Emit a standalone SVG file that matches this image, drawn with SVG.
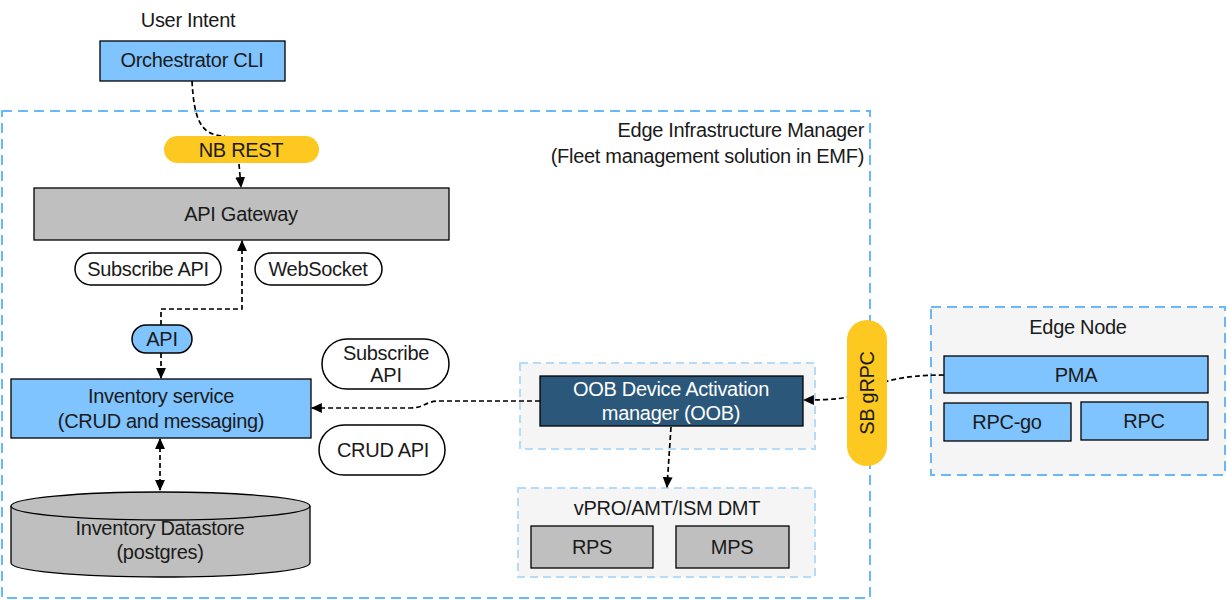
<svg xmlns="http://www.w3.org/2000/svg" width="1227" height="600" viewBox="0 0 1227 600">
<defs>
<marker id="ah" viewBox="0 0 10 10" refX="9" refY="5" markerWidth="11" markerHeight="11" orient="auto-start-reverse" markerUnits="userSpaceOnUse">
<path d="M0,0.5 L10,5 L0,9.5 z" fill="#000"/>
</marker>
<style>
text{font-family:"Liberation Sans",Arial,sans-serif;font-size:20px;fill:#1a1a1a;text-anchor:middle;dominant-baseline:central;letter-spacing:-0.3px}
.blue{fill:#80c4ff;stroke:#000;stroke-width:1.3}
.gray{fill:#bfbfbf;stroke:#000;stroke-width:1.3}
.pill{fill:#fff;stroke:#000;stroke-width:1.5}
.yel{fill:#fdc81f;stroke:none}
.outer{fill:none;stroke:#6ab8f7;stroke-width:2;stroke-dasharray:10 6}
.inner{fill:#f5f5f5;stroke:#b5dbfb;stroke-width:2;stroke-dasharray:8 5}
.edge{fill:#f5f5f5;stroke:#6ab8f7;stroke-width:2;stroke-dasharray:10 6}
.con{fill:none;stroke:#000;stroke-width:1.7;stroke-dasharray:5 3}
</style>
</defs>
<rect width="1227" height="600" fill="#fff"/>

<g id="eim">
<rect class="outer" x="2" y="111" width="868" height="487"/>
<text x="864" y="130" style="text-anchor:end">Edge Infrastructure Manager</text>
<text x="864" y="156" style="text-anchor:end">(Fleet management solution in EMF)</text>
</g>

<g id="user-intent">
<text x="188" y="20">User Intent</text>
</g>

<g id="oob-container"><rect class="inner" x="520" y="363" width="295" height="86"/></g>
<g id="vpro">
<rect class="inner" x="518" y="488" width="297" height="89"/>
<text x="667" y="508">vPRO/AMT/ISM DMT</text>
</g>
<g id="edge-node">
<rect class="edge" x="931" y="307" width="294" height="168"/>
<text x="1078" y="327">Edge Node</text>
</g>

<g id="connectors">
<path class="con" d="M192,81 C194,118 200,136 225,136"/>
<path class="con" d="M239,164 L241,187" marker-end="url(#ah)"/>
<path class="con" d="M161,325 L161,309 L242,309 L242,241" marker-end="url(#ah)"/>
<path class="con" d="M161,353 L161,378" marker-end="url(#ah)"/>
<path class="con" d="M160,439 L160,490" marker-start="url(#ah)" marker-end="url(#ah)"/>
<path class="con" d="M540,401 L440,401 C425,401 425,408 410,408 L312,408" marker-end="url(#ah)"/>
<path class="con" d="M671,427 L667,487" marker-end="url(#ah)"/>
<path class="con" d="M944,375 C900,375 880,382 860,392 C850,399 830,400 804,400" marker-end="url(#ah)"/>
</g>

<g id="orchestrator-cli">
<rect class="blue" x="100" y="41" width="185" height="40"/>
<text x="192" y="60">Orchestrator CLI</text>
</g>

<g id="nb-rest">
<rect class="yel" x="164" y="136" width="155" height="27" rx="13.5"/>
<text x="241" y="150">NB REST</text>
</g>

<g id="api-gateway">
<rect class="gray" x="34" y="188" width="415" height="52"/>
<text x="241" y="214">API Gateway</text>
</g>

<g id="subscribe-api-1">
<rect class="pill" x="75" y="253" width="146" height="32" rx="16"/>
<text x="148" y="269">Subscribe API</text>
</g>

<g id="websocket">
<rect class="pill" x="255" y="253" width="127" height="32" rx="16"/>
<text x="318" y="269">WebSocket</text>
</g>

<g id="api">
<rect x="132" y="325" width="60" height="28" rx="14" fill="#80c4ff" stroke="#000" stroke-width="1.5"/>
<text x="162" y="339">API</text>
</g>

<g id="inventory-service">
<rect class="blue" x="11" y="379" width="300" height="59"/>
<text x="161" y="396">Inventory service</text>
<text x="161" y="421">(CRUD and messaging)</text>
</g>

<g id="subscribe-api-2">
<rect class="pill" x="322" y="339" width="127" height="50" rx="25"/>
<text x="386" y="353">Subscribe</text>
<text x="386" y="375">API</text>
</g>

<g id="crud-api">
<rect class="pill" x="319" y="425" width="126" height="50" rx="25"/>
<text x="383" y="450">CRUD API</text>
</g>

<g id="inventory-datastore">
<path class="gray" d="M11,506 L11,563 A149.5,14 0 0 0 310,563 L310,506"/>
<ellipse class="gray" cx="160.5" cy="506" rx="149.5" ry="14"/>
<text x="160" y="528">Inventory Datastore</text>
<text x="160" y="552">(postgres)</text>
</g>

<g id="oob">
<rect x="540" y="376" width="263" height="50" fill="#2b587a" stroke="#000" stroke-width="1.3"/>
<text x="671" y="389" style="fill:#fff">OOB Device Activation</text>
<text x="671" y="413" style="fill:#fff">manager (OOB)</text>
</g>

<g id="rps">
<rect class="gray" x="531" y="526" width="122" height="42"/>
<text x="592" y="547">RPS</text>
</g>
<g id="mps">
<rect class="gray" x="676" y="526" width="113" height="42"/>
<text x="732" y="547">MPS</text>
</g>

<g id="sb-grpc">
<rect class="yel" x="847" y="320" width="40" height="146" rx="20"/>
<text x="867" y="393" transform="rotate(-90 867 393)">SB gRPC</text>
</g>

<g id="pma">
<rect class="blue" x="944" y="356" width="264" height="37"/>
<text x="1076" y="375">PMA</text>
</g>
<g id="rpc-go">
<rect class="blue" x="944" y="403" width="127" height="38"/>
<text x="1007" y="422">RPC-go</text>
</g>
<g id="rpc">
<rect class="blue" x="1081" y="402" width="127" height="38"/>
<text x="1144" y="421">RPC</text>
</g>
</svg>
